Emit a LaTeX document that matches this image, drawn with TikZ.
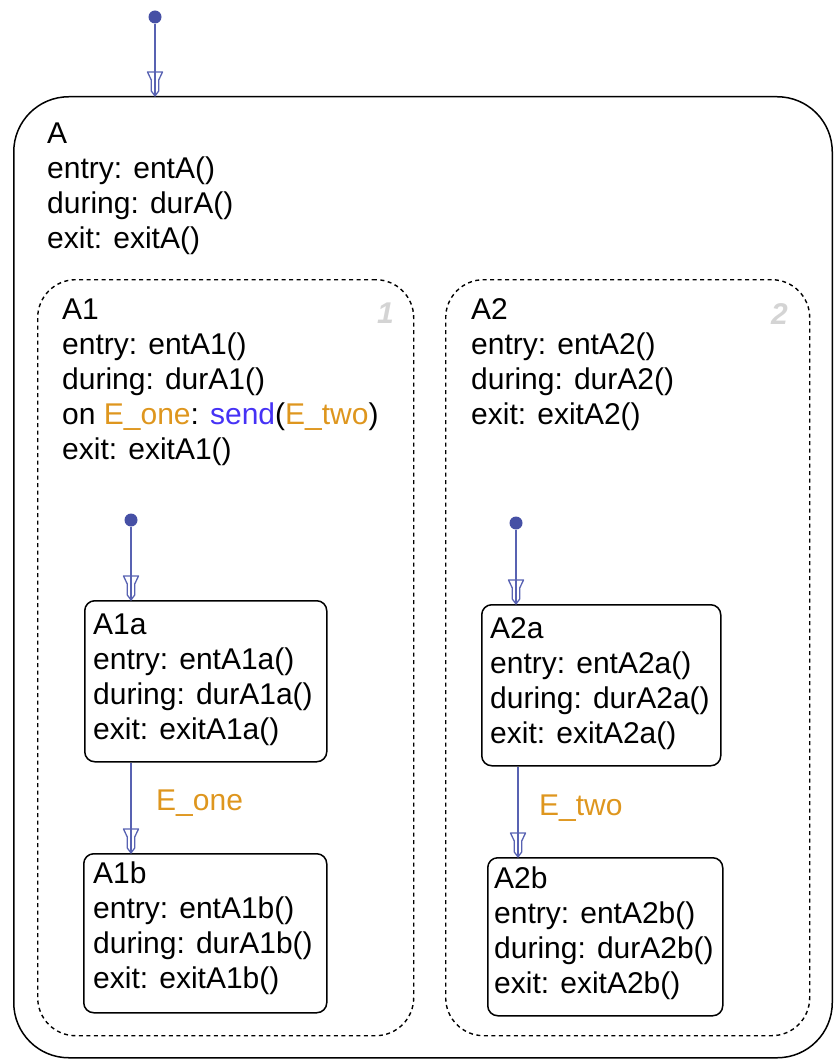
\documentclass[tikz,border=0pt]{standalone}
\usepackage{fontspec}
\setmainfont{Liberation Sans}
\usetikzlibrary{arrows.meta}
\definecolor{transc}{RGB}{88,98,178}
\definecolor{dotc}{RGB}{70,80,165}
\definecolor{evtc}{RGB}{222,150,30}
\definecolor{fnc}{RGB}{70,50,245}
\definecolor{numc}{RGB}{212,212,212}
\pgfdeclarearrow{
  name = SFTip,
  setup code = {
    \pgfarrowssettipend{0pt}
    \pgfarrowssetlineend{-1pt}
    \pgfarrowssetbackend{-24pt}
    \pgfarrowssetvisualbackend{-24pt}
    \pgfarrowsupperhullpoint{-24pt}{7.5pt}
    \pgfarrowsupperhullpoint{0pt}{0pt}
  },
  drawing code = {
    \pgfsetdash{}{0pt}
    \pgfsetroundjoin
    \pgfpathmoveto{\pgfpoint{-24pt}{7.5pt}}
    \pgfpathlineto{\pgfpoint{-24pt}{-7.5pt}}
    \pgfpathlineto{\pgfpoint{-16pt}{-3.7pt}}
    \pgfpathlineto{\pgfpoint{-5pt}{-3.7pt}}
    \pgfpathlineto{\pgfpoint{0pt}{0pt}}
    \pgfpathlineto{\pgfpoint{-5pt}{3.7pt}}
    \pgfpathlineto{\pgfpoint{-16pt}{3.7pt}}
    \pgfpathclose
    \pgfusepathqstroke
  }
}
\begin{document}
\begin{tikzpicture}[x=1pt,y=-1pt,
  txt/.style={font=\fontsize{30}{35}\selectfont, anchor=north west, inner sep=0pt, align=left, text=black},
  superbox/.style={draw, line width=1.5pt, rounded corners=55pt, anchor=north west, inner sep=0pt},
  regionbox/.style={draw, line width=1.4pt, dash pattern=on 4pt off 3.5pt, rounded corners=38pt, anchor=north west, inner sep=0pt},
  leafbox/.style={draw, line width=1.5pt, rounded corners=10pt, anchor=north west, inner sep=0pt},
  dotnode/.style={circle, fill=dotc, inner sep=0pt, minimum size=13pt},
  trans/.style={draw=transc, line width=1.3pt, -{SFTip}},
  evt/.style={font=\fontsize{30}{35}\selectfont, text=evtc, anchor=base west, inner sep=0pt},
  num/.style={font=\fontsize{30}{35}\selectfont\bfseries\itshape, text=numc, anchor=base west, inner sep=0pt}
]
\useasboundingbox (0,0) rectangle (833,1059);

% states
\node[superbox, minimum width=818.5pt, minimum height=961pt] (A) at (13,96) {};
\node[regionbox, minimum width=376pt, minimum height=756pt] (A1) at (37,279) {};
\node[regionbox, minimum width=364pt, minimum height=756pt] (A2) at (445,279) {};
\node[leafbox, minimum width=242pt, minimum height=161pt] (A1a) at (84,600) {};
\node[leafbox, minimum width=243pt, minimum height=159pt] (A1b) at (83,853) {};
\node[leafbox, minimum width=239pt, minimum height=161pt] (A2a) at (481,604) {};
\node[leafbox, minimum width=235pt, minimum height=158pt] (A2b) at (487,857) {};

% texts
\node[txt] (Atext) at (47,122.5) {A\\entry: entA()\\during: durA()\\exit: exitA()};
\node[txt] (A1text) at (62,298.5) {A1\\entry: entA1()\\during: durA1()\\on {\color{evtc}E\_one}: {\color{fnc}send}({\color{evtc}E\_two})\\exit: exitA1()};
\node[txt] (A2text) at (471,298.5) {A2\\entry: entA2()\\during: durA2()\\exit: exitA2()};
\node[txt] (A1atext) at (93,613.5) {A1a\\entry: entA1a()\\during: durA1a()\\exit: exitA1a()};
\node[txt] (A1btext) at (93,861.5) {A1b\\entry: entA1b()\\during: durA1b()\\exit: exitA1b()};
\node[txt] (A2atext) at (490,617.5) {A2a\\entry: entA2a()\\during: durA2a()\\exit: exitA2a()};
\node[txt] (A2btext) at (494,866.5) {A2b\\entry: entA2b()\\during: durA2b()\\exit: exitA2b()};

% parallel order numbers
\node[num] (n1) at (377,323) {1};
\node[num] (n2) at (771,324) {2};

% default transitions
\node[dotnode] (d0) at (155,17) {};
\node[dotnode] (d1) at (131,520) {};
\node[dotnode] (d2) at (516,523) {};
\coordinate (x2) at (518,0);
\draw[trans] (d0) -- (d0 |- A.north);
\draw[trans] (d1) -- (d1 |- A1a.north);
\draw[trans] (d2) -- (d2 |- A2a.north);

% transitions
\draw[trans] (d1 |- A1a.south) -- (d1 |- A1b.north);
\draw[trans] (x2 |- A2a.south) -- (x2 |- A2b.north);
\node[evt] (e1) at (156,810) {E\_one};
\node[evt] (e2) at (539,815) {E\_two};
\end{tikzpicture}
\end{document}
